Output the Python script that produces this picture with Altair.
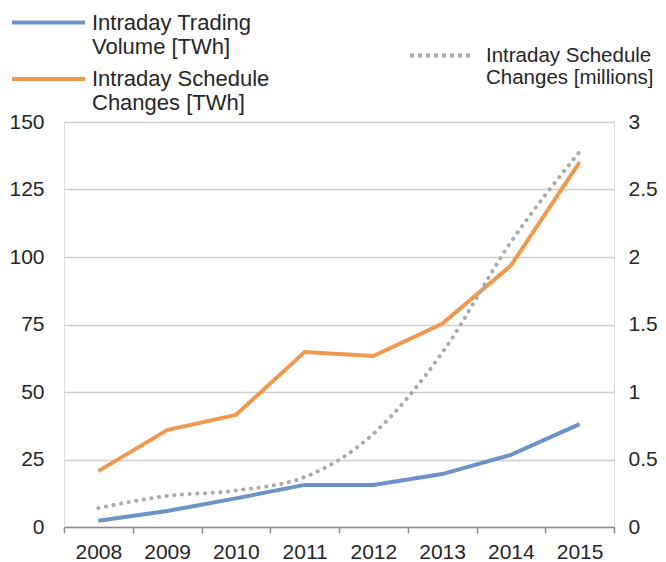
import altair as alt
import pandas as pd

years = ["2008", "2009", "2010", "2011", "2012", "2013", "2014", "2015"]
trading_volume_twh = [2.3, 5.9, 10.6, 15.6, 15.6, 19.6, 26.7, 38.1]
schedule_changes_twh = [20.7, 35.9, 41.5, 64.8, 63.3, 75.3, 96.8, 135.1]
schedule_changes_millions = [0.14, 0.23, 0.27, 0.37, 0.69, 1.29, 2.11, 2.78]

series_names = [
    "Intraday Trading|Volume [TWh]",
    "Intraday Schedule|Changes [TWh]",
    "Intraday Schedule|Changes [millions]",
]
series_colors = ["#6C93C7", "#F0994E", "#A9A9A9"]
left_ticks = [0, 25, 50, 75, 100, 125, 150]
right_ticks = [0, 0.5, 1, 1.5, 2, 2.5, 3]

vol_df = pd.DataFrame({"year": years, "value": trading_volume_twh, "series": series_names[0]})
chg_df = pd.DataFrame({"year": years, "value": schedule_changes_twh, "series": series_names[1]})
mil_df = pd.DataFrame({"year": years, "value": schedule_changes_millions, "series": series_names[2]})

FONT = "Liberation Sans"
TXT = "#262626"

x_enc = alt.X(
    "year:O",
    scale=alt.Scale(type="band", paddingInner=0, paddingOuter=0),
    axis=alt.Axis(
        title=None, labelAngle=0, tickBand="extent", domainColor="#8C8C8C", tickColor="#8C8C8C",
        domainWidth=1.5, tickWidth=1.5, tickSize=6, labelPadding=8, grid=False,
        labelFontSize=21, labelFont=FONT, labelColor=TXT,
    ),
)

y_left = alt.Y(
    "value:Q",
    scale=alt.Scale(domain=[0, 150]),
    axis=alt.Axis(
        title=None, values=left_ticks, domain=False, ticks=False, labelPadding=20,
        grid=True, gridColor="#D0D0D0", gridWidth=1.5,
        labelFontSize=21, labelFont=FONT, labelColor=TXT,
    ),
)


def legend(x, y, size, offset, font_size, dash=None):
    kw = dict(
        title=None, orient="none", legendX=x, legendY=y,
        symbolType="stroke", symbolSize=size, symbolStrokeWidth=4,
        labelExpr="split(datum.label, '|')", labelBaseline="middle",
        labelFontSize=font_size, labelFont=FONT, labelColor=TXT,
        labelOffset=offset, padding=0, labelLimit=400,
    )
    if dash:
        kw["symbolDash"] = dash
    return alt.Legend(**kw)


vol = alt.Chart(vol_df).mark_line(strokeWidth=4).encode(
    x=x_enc, y=y_left,
    color=alt.Color("series:N", scale=alt.Scale(domain=[series_names[0]], range=[series_colors[0]]),
                    legend=legend(-54, -138, 5329, 5, 22)),
)

chg = alt.Chart(chg_df).mark_line(strokeWidth=4).encode(
    x=x_enc, y=y_left,
    color=alt.Color("series:N", scale=alt.Scale(domain=[series_names[1]], range=[series_colors[1]]),
                    legend=legend(-54, -81.5, 5329, 5, 22)),
)

mil = alt.Chart(mil_df).mark_line(
    strokeWidth=4, strokeDash=[0.1, 7.6], strokeCap="round", interpolate="monotone"
).encode(
    x=x_enc,
    y=alt.Y(
        "value:Q",
        scale=alt.Scale(domain=[0, 3]),
        axis=alt.Axis(
            title=None, orient="right", values=right_ticks, format="~g", domain=False, ticks=False,
            labelPadding=14, grid=False,
            labelFontSize=21, labelFont=FONT, labelColor=TXT,
        ),
    ),
    color=alt.Color("series:N", scale=alt.Scale(domain=[series_names[2]], range=[series_colors[2]]),
                    legend=legend(344, -100.5, 4096, 10, 20.5, dash=[4, 4])),
)

left = alt.layer(vol, chg).resolve_scale(color="independent")

chart = alt.layer(left, mil).resolve_scale(y="independent", color="independent").properties(
    width=550, height=405,
    padding={"left": 56, "top": 114, "right": 44, "bottom": 35},
    autosize=alt.AutoSizeParams(type="none"),
).configure_view(stroke=None).configure(background="white")

chart.save("out.html", embed_options={"renderer": "svg", "actions": False})
